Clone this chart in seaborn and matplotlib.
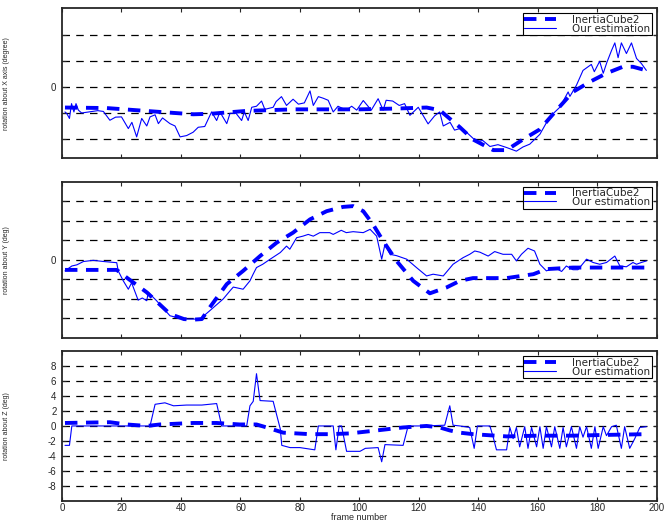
import matplotlib
matplotlib.use("Agg")
import matplotlib.pyplot as plt
import seaborn as sns

# rotation about the first axis
roll_x_ref = [1, 15, 33, 44.1, 50, 62, 77.7, 100, 112, 122.6, 127, 133.8, 138.2, 145, 149.5,
              155, 160.7, 166.3, 171.8, 177.5, 183.1, 188.6, 192, 196.5]
roll_ref = [-7.8, -8, -9.5, -10.4, -10.2, -9.1, -8.5, -8.5, -8.2, -7.8, -8.8, -15.4, -20.1, -24.2, -24.2,
            -20.1, -16.2, -8.8, -1.8, 2.1, 5.4, 7.9, 7.9, 6.5]
roll_x_est = [1, 1.6, 2.5, 3.2, 4.0, 4.7, 5.5, 6.6, 9, 12, 13.9, 16.1, 18, 20, 22.3, 23.5, 25.1, 26.8,
              28.5, 29.6, 31.3, 32.4, 33.8, 36.3, 38, 39.7, 41.9, 44.1, 45.8, 48, 50.3, 52, 53.1, 55.4,
              56.5, 58.5, 60.4, 61.3, 62.6, 63.8, 65.4, 67.1, 68.2, 71, 72, 73.8, 75.5, 77.7, 79.5, 81.5,
              83.4, 84.5, 86.2, 87.8, 89.5, 91.2, 92.8, 95.6, 97.4, 99.1, 101.3, 104, 106.3, 108, 109,
              111.2, 113.4, 115.2, 117, 119.8, 123.1, 125.3, 127, 128.2, 130.5, 132, 133.8, 136, 139.4,
              141.5, 143.9, 146.6, 149.5, 152.8, 155, 157.3, 160.7, 164, 167.4, 170.2, 170.8, 173, 175.2,
              178, 179, 180.8, 182, 183.2, 184.8, 185.9, 187, 188.1, 189.8, 191.5, 193.2, 194.8, 196.5]
roll_est = [-9.5, -10.1, -12, -6.3, -9.5, -6.3, -8.8, -9.9, -9.5, -9.0, -9.3, -12.7, -11.5, -11.4, -15.9,
            -13.5, -19.1, -12, -14.9, -11.4, -10.6, -14, -11.8, -14, -14.9, -19.1, -18.6, -17.3, -15.4,
            -15.1, -9.5, -12.8, -9.5, -14, -10, -10, -12.8, -9.5, -12.8, -7.7, -7.3, -5.3, -8.5, -7.7,
            -5.5, -3.6, -7, -4.6, -6.5, -6, -1.4, -7, -3.6, -4.2, -5, -9.5, -7.3, -8.8, -7.3, -8.8, -5.1,
            -8.8, -4.4, -8.8, -5, -5.3, -7, -6.3, -10.8, -7.7, -14.1, -11, -9.5, -14.9, -13.5, -16.5,
            -15.9, -17.3, -20.9, -20.5, -22.8, -22.1, -23.2, -24.6, -23, -21.9, -18.1, -11.4, -7.7, -1.8,
            -3.5, 0.8, 6.5, 8.8, 6, 10, 5.4, 9.5, 14.2, 17.1, 11.4, 17.1, 13, 17.1, 11.1, 9.2, 6.5]

# rotation about the second axis
pitch_x_ref = [1, 18.4, 21.7, 28.5, 36.3, 41, 44.1, 47, 49.7, 55.4, 60.9, 66.6, 72.2, 77.7, 83.4, 89,
               94.5, 97.9, 101.3, 104.6, 108, 112.5, 118.1, 123.7, 129.3, 133.8, 138.2, 149.5, 158.5,
               162.9, 171.8, 183.1, 196.5]
pitch_ref = [-5.1, -5.1, -9, -16.6, -27.7, -30.3, -30.6, -30.3, -24.3, -12.4, -5.6, 2, 8.9, 14, 20.8, 25,
             27.2, 27.6, 25, 18.2, 9.7, -0.5, -10.7, -17.1, -14.1, -10.7, -9.3, -9.3, -7.3,
             -4.7, -3.9, -3.9, -3.9]
pitch_x_est = [1, 3.3, 5, 7.2, 10.5, 14, 18.4, 18.9, 20.6, 22.3, 23.4, 25.6, 27, 28.5, 29, 31.8, 36.3,
               40.8, 46.4, 49.7, 54.2, 56.5, 57.6, 60.9, 63.2, 64.2, 65.4, 67.5, 70, 73.4, 75.5, 76.6,
               78.9, 81, 82.8, 84.5, 86.7, 90, 91.2, 93.9, 95.6, 97.9, 101.3, 103.6, 105.8, 107.5, 108.6,
               110.3, 112.5, 115.9, 119.2, 122.6, 124.8, 128.2, 131.5, 134.9, 137.1, 138.8, 140.5, 143.3,
               145.5, 148.3, 151.2, 152.8, 154.5, 156.7, 158.9, 160.7, 162.9, 165.7, 168, 169.6, 171.8,
               173.5, 176.4, 178.6, 180.8, 183.1, 185.9, 187.6, 189.8, 192, 193.2, 194.8, 196.5]
pitch_est = [-5.6, -3.1, -2.5, -0.8, -0.2, -0.8, -1.4, -5.6, -10.7, -15, -11.7, -20.6, -19.5, -20.9,
             -16.6, -20.9, -28.6, -30.3, -30.3, -26, -20, -15.8, -13.9, -15, -10.7, -7.5, -3.9, -2.2,
             0.4, 3.8, 7.1, 5.5, 11.4, 12.2, 13.1, 12.2, 14, 14, 13.1, 15.2, 14, 14.5, 14, 15.7, 12.2,
             0.4, 8, 2.9, 2.2, 0.4, -3.9, -8.2, -7.3, -8.2, -2.2, 1.2, 2.9, 4.6, 4, 2, 4.3, 2.9, 2.9,
             -0.5, 2.9, 6, 4.6, -2.2, -5.6, -3.9, -5.9, -3.1, -5, -5, 0.4, -1.3, -2.2, -1.3, 2, -3.1,
             -3.5, -1.3, -2.2, -1.3, -0.5]

# rotation about the third axis
yaw_x_ref = [1, 16.1, 21.7, 28.5, 33, 44.1, 52, 59.8, 65.4, 68.8, 74.4, 83.4, 90, 96.8, 105.8, 114.7,
             122.6, 127, 130.4, 133.8, 138.2, 149.5, 160, 171.9, 183, 196.5]
yaw_ref = [0.4, 0.5, 0.2, 0, 0.2, 0.4, 0.4, 0.2, 0.2, -0.2, -0.9, -1.1, -1.1, -1, -0.6, -0.2,
           0, -0.2, -0.6, -0.9, -1.1, -1.4, -1.3, -1.3, -1.2, -1.1]
yaw_x_est = [1, 2.5, 3.3, 29.6, 31.3, 34.6, 37.5, 41.9, 47, 52, 53.7, 62.1, 63.2, 64.3, 65.4, 66.6, 71,
             73.4, 73.9, 76.7, 80, 85, 86.2, 91.2, 92.1, 93.2, 94, 95.7, 100.2, 102, 106.3, 107.5, 108.6,
             114.7, 116.4, 122, 128.7, 130.4, 131.5, 133.8, 137.1, 138.6, 139.7, 143.9, 145, 146.1,
             149.5, 150.6, 151.7, 152.8, 153.9, 155.6, 156.7, 157.9, 159.6, 160.7, 161.8, 162.9, 164.6,
             165.7, 167.4, 168.5, 169.6, 171.3, 173, 174.1, 175.2, 176.4, 178, 179.2, 180.3, 182, 183.1,
             184.8, 186.4, 188.1, 189.2, 190.9, 192.6, 194.3, 196.5]
yaw_est = [-2.6, -2.6, 0, 0, 2.9, 3.1, 2.7, 2.8, 2.8, 3, 0, 0, 2.7, 3.3, 7, 3.4, 3.3, -0.4, -2.6, -2.9,
           -2.9, -3.2, 0, 0, -3.2, 0, 0, -3.4, -3.4, -3.0, -2.9, -4.8, -2.5, -2.6, 0, 0, 0.1, 2.7, 0.1, 0,
           -0.2, -3, 0, 0, -1.5, -3.2, -3.2, -0.2, -1.7, -0.2, -2.8, -0.1, -3.0, -0.2, -2.8, -0.1, -3.0,
           -0.1, -2.8, -0.1, -3.0, -0.2, -2.8, -0.1, -3.0, -0.1, -1.5, -0.1, -3.0, -0.1, -3.0, -0.1, -1.3,
           -0.1, 0.1, -3.0, -0.1, -3.0, -1.7, -0.2, -0.1]

y_labels = ["rotation about X axis (degree)", "rotation about Y (deg)", "rotation about Z (deg)"]
x_ticks = list(range(0, 201, 20))

sns.set_style("ticks")
plt.rcParams['font.family'] = ['Liberation Sans', 'DejaVu Sans']

fig = plt.figure(figsize=(6.69, 5.22), dpi=100)
L, W = 0.0927, 0.889
axs = [fig.add_axes([L, 0.697, W, 0.287]),
       fig.add_axes([L, 0.3525, W, 0.299]),
       fig.add_axes([L, 0.041, W, 0.286])]

panels = [
    (roll_x_ref, roll_ref, roll_x_est, roll_est, [-20, -10, 0, 10, 20], (-27.3, 30.4)),
    (pitch_x_ref, pitch_ref, pitch_x_est, pitch_est, [-30, -20, -10, 0, 10, 20, 30], (-40, 40)),
    (yaw_x_ref, yaw_ref, yaw_x_est, yaw_est, list(range(-8, 9, 2)), (-10, 10)),
]

for i, (ax, (xr, yr, xe, ye, yt, ylim)) in enumerate(zip(axs, panels)):
    sns.lineplot(x=xr, y=yr, ax=ax, color='blue', linewidth=2.8, linestyle='--',
                 estimator=None, sort=False, label='InertiaCube2')
    ax.lines[-1].set_dashes((3.2, 2.2))
    sns.lineplot(x=xe, y=ye, ax=ax, color='blue', linewidth=0.8,
                 estimator=None, sort=False, label='Our estimation')
    ax.set_xlim(0, 200)
    ax.set_ylim(*ylim)
    ax.set_xticks(x_ticks)
    ax.set_yticks(yt)
    if i < 2:
        ax.set_xticklabels([])
        ax.set_yticklabels(['0' if v == 0 else '' for v in yt])
    else:
        ax.set_yticklabels([str(v) for v in yt])
    for v in yt:
        ax.axhline(v, color='black', linewidth=0.9, linestyle=(0, (6, 5)), zorder=0)
    ax.tick_params(direction='in', length=3, width=0.8, labelsize=7, top=True, right=True, pad=4)
    ax.tick_params(axis='x', pad=1.5)
    for sp in ax.spines.values():
        sp.set_linewidth(1.3)
        sp.set_visible(True)
    ax.set_ylabel(y_labels[i], fontsize=5)
    ax.yaxis.set_label_coords(-0.088, 0.5)
    leg = ax.legend(loc='upper right', prop={'family': 'DejaVu Sans', 'size': 7.5},
                    frameon=True, fancybox=False, edgecolor='black', framealpha=1,
                    handlelength=3.0, labelspacing=-0.1, borderpad=0.15, borderaxespad=0.45,
                    handletextpad=1.6)
    leg.get_frame().set_linewidth(0.8)

axs[2].set_xlabel('frame number', fontsize=6.5, labelpad=0)
axs[2].xaxis.set_label_coords(0.5, -0.085)

fig.savefig('out.png', dpi=100)
